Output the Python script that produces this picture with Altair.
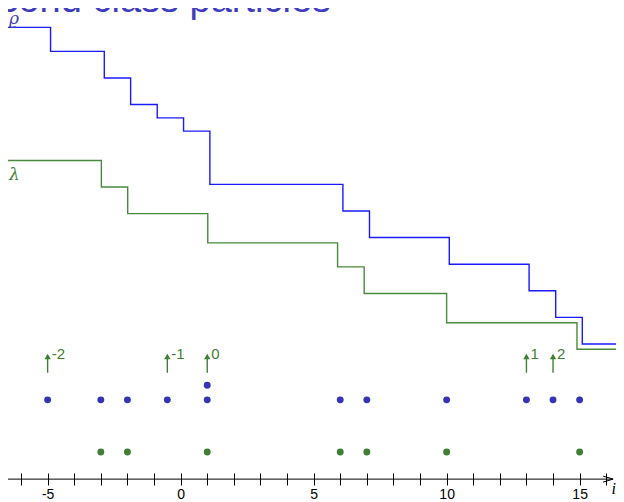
import altair as alt
import pandas as pd

# ---- data ----
title_text = "Second class particles"

rho_x = [-6.49, -4.89, -2.87, -1.88, -0.88, 0.11, 1.10, 6.10, 7.10, 10.10, 13.10, 14.10, 15.10, 16.40]
rho_h = [11.9, 11.0, 10.0, 9.0, 8.5, 8.0, 6.0, 5.0, 4.0, 3.0, 2.0, 1.0, 0.0, 0.0]

lam_x = [-6.49, -2.98, -1.99, 1.02, 5.90, 6.90, 10.00, 14.90, 16.40]
lam_h = [6.9, 5.9, 4.9, 3.8, 2.9, 1.9, 0.8, -0.2, -0.2]

blue_dot_x = [-5, -3, -2, -0.5, 1, 1, 6, 7, 10, 13, 14, 15]
blue_dot_y = [-2.1, -2.1, -2.1, -2.1, -2.1, -1.55, -2.1, -2.1, -2.1, -2.1, -2.1, -2.1]

green_dot_x = [-3, -2, 1, 6, 7, 10, 15]
green_dot_y = [-4.06, -4.06, -4.06, -4.06, -4.06, -4.06, -4.06]

arrow_x = [-5, -0.5, 1, 13, 14]
arrow_labels = ["-2", "-1", "0", "1", "2"]
arrow_tail = -1.08
arrow_head = -0.47
arrow_label_y = -0.36

tick_values = list(range(-6, 17))
axis_y = -5.08
axis_x_start = -6.49
axis_x_end = 16.25
axis_head_x = 16.07
axis_label = "i"

series_labels = ["ϱ", "λ"]
series_label_x = [-6.45, -6.45]
series_label_y = [12.2, 6.35]

# ---- styling ----
BLUE_LINE = "#1a1aff"
BLUE_DOT = "#3434b4"
GREEN = "#3e7f33"
GREEN_LINE = "#4a8a3e"
TITLE_BLUE = "#3d3dbd"

W = 608
H = 465
X_MIN = -6.49
UNIT = 26.6
xs = alt.Scale(domain=[X_MIN, X_MIN + W / UNIT], nice=False, zero=False)
ys = alt.Scale(domain=[-4.85, 12.63], nice=False, zero=False)

AX = alt.Axis(values=tick_values, domain=False, grid=False,
              tickSize=12, tickColor="black", tickWidth=1,
              labelExpr="datum.value % 5 === 0 ? '' + datum.value : ''",
              labelFontSize=14, labelFont="Liberation Sans",
              labelColor="black", labelPadding=2, title=None,
              labelFlush=False, labelOverlap=False)


def X(field="x"):
    return alt.X(field, type="quantitative", scale=xs, axis=AX)


def Y(field="y"):
    return alt.Y(field, type="quantitative", scale=ys, axis=None)


rho_df = pd.DataFrame({"x": rho_x, "y": rho_h})
lam_df = pd.DataFrame({"x": lam_x, "y": lam_h})
bd_df = pd.DataFrame({"x": blue_dot_x, "y": blue_dot_y})
gd_df = pd.DataFrame({"x": green_dot_x, "y": green_dot_y})
ar_df = pd.DataFrame({"x": arrow_x, "lab": arrow_labels,
                      "y0": [arrow_tail] * len(arrow_x),
                      "y1": [arrow_head] * len(arrow_x),
                      "ly": [arrow_label_y] * len(arrow_x)})
axis_df = pd.DataFrame({"x": [axis_x_start], "x2": [axis_x_end], "y": [axis_y]})
head_df = pd.DataFrame({"x": [axis_head_x], "y": [axis_y]})
ilab_df = pd.DataFrame({"x": [X_MIN + W / UNIT], "y": [-5.45], "t": [axis_label]})
slab_df = pd.DataFrame({"x": series_label_x, "y": series_label_y, "t": series_labels,
                        "c": [TITLE_BLUE, GREEN]})
title_df = pd.DataFrame({"t": [title_text]})

rho_line = alt.Chart(rho_df).mark_line(interpolate="step-after", color=BLUE_LINE,
                                       strokeWidth=1.4).encode(x=X(), y=Y())
lam_line = alt.Chart(lam_df).mark_line(interpolate="step-after", color=GREEN_LINE,
                                       strokeWidth=1.4).encode(x=X(), y=Y())

blue_dots = alt.Chart(bd_df).mark_circle(size=48, color=BLUE_DOT, opacity=1).encode(x=X(), y=Y())
green_dots = alt.Chart(gd_df).mark_circle(size=48, color=GREEN, opacity=1).encode(x=X(), y=Y())

arrow_shaft = alt.Chart(ar_df).mark_rule(color=GREEN, strokeWidth=1.4).encode(
    x=X(), y=Y("y0"), y2="y1")
arrow_tip = alt.Chart(ar_df).mark_point(shape="triangle-up", size=40, filled=True,
                                        color=GREEN, opacity=1).encode(x=X(), y=Y("y1"))
arrow_text = alt.Chart(ar_df).mark_text(align="left", baseline="middle", dx=4,
                                        fontSize=15, font="Liberation Sans",
                                        color=GREEN).encode(x=X(), y=Y("ly"), text="lab")

axis_line = alt.Chart(axis_df).mark_rule(color="black", strokeWidth=1).encode(
    x=X(), x2="x2", y=Y())
axis_head = alt.Chart(head_df).mark_point(shape="M-1,-0.6 L1,0 L-1,0.6", size=100,
                                          filled=False, color="black", strokeWidth=1,
                                          opacity=1).encode(x=X(), y=Y())
axis_title = alt.Chart(ilab_df).mark_text(align="right", baseline="middle", fontSize=16,
                                          fontStyle="italic", font="Liberation Serif",
                                          color="black").encode(x=X(), y=Y(), text="t")

series_text = alt.Chart(slab_df).mark_text(align="left", baseline="middle", fontSize=17,
                                           font="DejaVu Serif", fontStyle="italic").encode(
    x=X(), y=Y(), text="t", color=alt.Color("c:N", scale=None))

title_mark = alt.Chart(title_df).mark_text(align="left", baseline="alphabetic", fontSize=38,
                                           font="Liberation Sans", color=TITLE_BLUE).encode(
    x=alt.value(-55), y=alt.value(4), text="t")

chart = alt.layer(
    rho_line, lam_line, blue_dots, green_dots,
    arrow_shaft, arrow_tip, arrow_text, axis_line, axis_head, axis_title,
    series_text, title_mark,
).properties(
    width=W, height=H,
    autosize=alt.AutoSizeParams(type="none"),
    padding={"left": 0, "top": 0, "right": 0, "bottom": 30},
).configure_view(stroke=None)

chart.save("out.html", embed_options={"renderer": "svg", "actions": False})
